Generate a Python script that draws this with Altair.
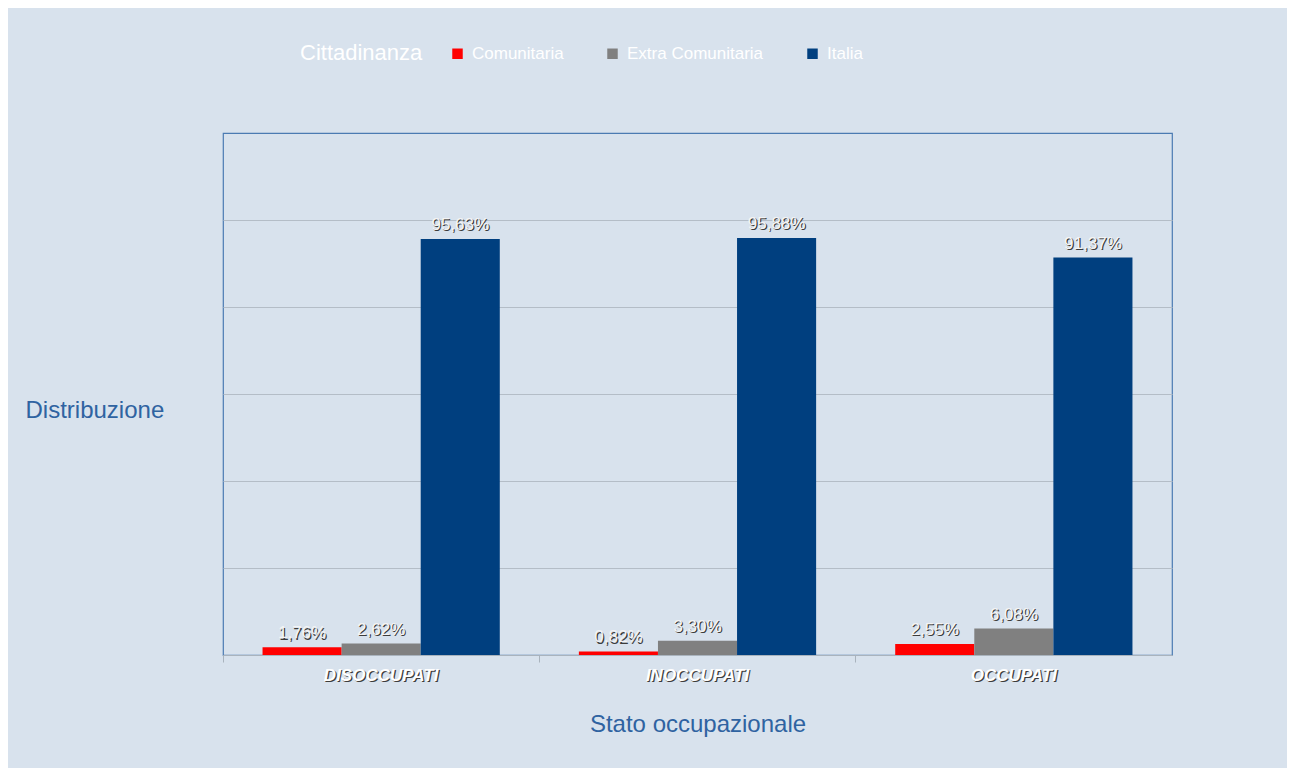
import altair as alt
import pandas as pd

categories = ["DISOCCUPATI", "INOCCUPATI", "OCCUPATI"]
series = ["Comunitaria", "Extra Comunitaria", "Italia"]
comunitaria = [1.76, 0.82, 2.55]
extra_comunitaria = [2.62, 3.30, 6.08]
italia = [95.63, 95.88, 91.37]
colors = ["#ff0000", "#808080", "#003f7f"]
grid_values = [0, 20, 40, 60, 80, 100]

rows = []
for s, vals in zip(series, [comunitaria, extra_comunitaria, italia]):
    for c, v in zip(categories, vals):
        rows.append({"stato": c, "cittadinanza": s, "valore": v,
                     "label": f"{v:.2f}%".replace(".", ",")})
df = pd.DataFrame(rows)
cat_df = pd.DataFrame({"stato": categories})

FONT = "Liberation Sans"
xscale = alt.Scale(domain=categories, paddingInner=0, paddingOuter=0)
offscale = alt.Scale(domain=series, paddingInner=0, paddingOuter=0.5)
yscale = alt.Scale(domain=[0, 120], nice=False)

x_enc = alt.X("stato:N", scale=xscale, sort=categories,
              axis=alt.Axis(labels=False, bandPosition=0, ticks=True, tickSize=7,
                            tickColor="#a9b3bd", domainColor="#a9b3bd", grid=False,
                            title="Stato occupazionale", titleY=69, titleBaseline="middle",
                            titleFontSize=24, titleFontWeight="normal", titleColor="#2f63a1",
                            titleFont=FONT))
y_enc = alt.Y("valore:Q", scale=yscale,
              axis=alt.Axis(values=grid_values, labels=False, ticks=False, domain=False,
                            grid=True, gridColor="#b4bdc7", title="Distribuzione",
                            titleAngle=0, titleX=-198, titleY=277, titleAlign="left",
                            titleBaseline="middle", titleFontSize=24, titleFontWeight="normal",
                            titleColor="#2f63a1", titleFont=FONT))

bars = alt.Chart(df).mark_bar().encode(
    x=x_enc,
    xOffset=alt.XOffset("cittadinanza:N", scale=offscale, sort=series),
    y=y_enc,
    color=alt.Color("cittadinanza:N", scale=alt.Scale(domain=series, range=colors),
                    legend=alt.Legend(title="Cittadinanza", orient="none", legendX=77,
                                      legendY=-88, direction="horizontal", titleOrient="left",
                                      symbolType="square", symbolSize=110, symbolStrokeWidth=0,
                                      labelFontSize=17, titleFontSize=22, titleColor="#ffffff",
                                      labelColor="#ffffff", columnPadding=40, titlePadding=26,
                                      labelOffset=6, titleFont=FONT, labelFont=FONT,
                                      titleFontWeight="normal")),
)

def value_text(color, dx, dy):
    return alt.Chart(df).mark_text(font=FONT, fontSize=17, color=color, dx=dx, dy=dy,
                                   baseline="alphabetic").encode(
        x=alt.X("stato:N", scale=xscale, sort=categories),
        xOffset=alt.XOffset("cittadinanza:N", scale=offscale, sort=series),
        y=alt.Y("valore:Q", scale=yscale),
        text="label:N",
    )

def cat_text(color, dx, dy):
    return alt.Chart(cat_df).mark_text(font=FONT, fontSize=17, fontStyle="italic",
                                       fontWeight="bold", color=color, dx=dx, dy=dy,
                                       baseline="middle").encode(
        x=alt.X("stato:N", scale=xscale, sort=categories),
        y=alt.value(543),
        text="stato:N",
    )

chart = alt.layer(
    bars,
    value_text("#3c3c3c", 1.2, -7.8),
    value_text("#f4f4f4", 0, -9),
    cat_text("#3c3c3c", 1.2, 1.2),
    cat_text("#ffffff", 0, 0),
).properties(
    width=949, height=522,
    autosize=alt.AutoSizeParams(type="none"),
    padding={"left": 215, "top": 125, "right": 115, "bottom": 113},
    background="#d8e2ed",
).configure_view(stroke="#4b7bb2", strokeWidth=1.2)

chart.save("out.html", embed_options={"renderer": "svg", "actions": False})
